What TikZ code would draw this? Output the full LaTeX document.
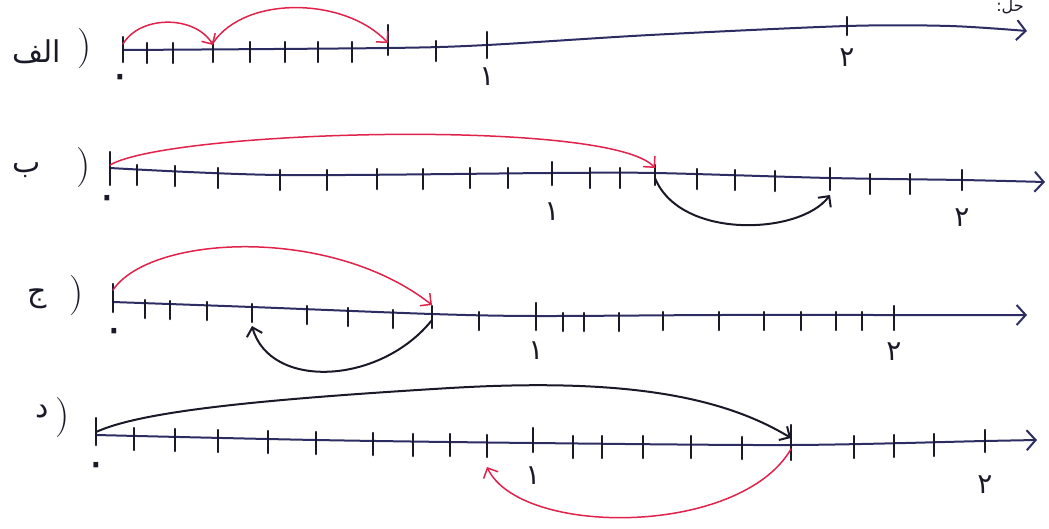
\documentclass[tikz,border=0pt]{standalone}
\usepackage{fontspec}
\usetikzlibrary{arrows.meta}
\TeXXeTstate=1
\newfontfamily\arabicfont[Script=Arabic]{DejaVu Sans}
\definecolor{inkblue}{RGB}{45,45,100}
\definecolor{inkred}{RGB}{225,35,75}
\definecolor{inkblack}{RGB}{25,25,40}
\begin{document}
\begin{tikzpicture}[x=1pt,y=-1pt,
  nline/.style={draw=inkblue, line width=2pt, line cap=round,
    -{Straight Barb[length=9pt,width=20pt]}},
  tickmark/.style={draw=inkblack, line width=2.5pt, line cap=round},
  redarc/.style={draw=inkred, line width=1.5pt, line cap=round,
    -{Straight Barb[length=8pt,width=16pt]}},
  blackarc/.style={draw=inkblack, line width=2pt, line cap=round,
    -{Straight Barb[length=8pt,width=16pt]}},
  numlbl/.style={font=\arabicfont\fontsize{28}{28}\selectfont, text=inkblack, inner sep=0pt},
  zerolbl/.style={font=\arabicfont\fontsize{44}{44}\selectfont, text=inkblack, inner sep=0pt},
  rowlbl/.style={font=\arabicfont\fontsize{30}{30}\selectfont, text=inkblack, inner sep=0pt},
  paren/.style={font=\fontsize{40}{40}\selectfont, text=inkblack, inner sep=0pt}]
\useasboundingbox (0,0) rectangle (1049,528);
\fill[white] (0,0) rectangle (1049,528);

% heading at top right
\node[rowlbl, font=\arabicfont\fontsize{16}{16}\selectfont] (head) at (1010,7) {\beginR حل:\endR};

% ---------------- Row A ----------------
\foreach \n/\x/\y in {0/123/50,1/147/50,2/173/50,3/213/49,4/250/49,5/285/49,6/318/49,7/352/49,8/388/48,9/436/48,10/487/45,20/847/26}
  \coordinate (A\n) at (\x,\y);
\coordinate (Am1) at (650,35);
\coordinate (Am2) at (950,26);
\coordinate (Aend) at (1027,31);
\draw[nline] plot[smooth, tension=0.5] coordinates {(A0) (A8) (A10) (Am1) (A20) (Am2) (Aend)};
\foreach \n in {1,2,3,4,5,6,7,9}
  \draw[tickmark] ([yshift=7pt]A\n) -- ([yshift=-13pt]A\n);
\draw[tickmark] ([yshift=13pt]A0) -- ([yshift=-12pt]A0);
\draw[tickmark] ([yshift=23pt]A8) -- ([yshift=-7pt]A8);
\draw[tickmark] ([yshift=13pt]A10) -- ([yshift=-13pt]A10);
\draw[tickmark] ([yshift=9pt]A20) -- ([yshift=-9pt]A20);
\node[zerolbl] (A0l) at (120,82) {\beginR ۰\endR};
\node[numlbl] (A10l) at (487,77) {\beginR ۱\endR};
\node[numlbl] (A20l) at (847,58) {\beginR ۲\endR};
\node[rowlbl] (Alab) at (37,52) {\beginR الف\endR};
\node[paren] (Apar) at (85,49) {)};
\draw[redarc] ([yshift=6pt]A0) .. controls (140,15) and (195,15) .. ([yshift=4pt]A3);
\draw[redarc] ([yshift=6pt]A3) .. controls (245,-5) and (345,-3) .. ([yshift=5pt]A8);

% ---------------- Row B ----------------
\foreach \n/\x/\y in {0/110/168,1/137/170,2/175/171,3/218/173,4/280/175,5/327/175,6/377/174,7/423/174,8/470/173,9/508/173,10/552/173,11/590/173,12/620/173,13/655/173,14/697/174,15/735/175,16/775/176,17/830/178,18/870/179,19/910/179,20/962/180}
  \coordinate (B\n) at (\x,\y);
\coordinate (Bend) at (1045,182);
\draw[nline] plot[smooth, tension=0.5] coordinates {(B0) (B4) (B10) (B13) (B17) (B20) (Bend)};
\foreach \n in {1,2,3,4,5,6,7,8,9,11,12,14,15,16,18,19}
  \draw[tickmark] ([yshift=5pt]B\n) -- ([yshift=-15pt]B\n);
\draw[tickmark] ([yshift=16pt]B0) -- ([yshift=-17pt]B0);
\draw[tickmark] ([yshift=11pt]B10) -- ([yshift=-12pt]B10);
\draw[tickmark] ([yshift=8pt]B13) -- ([yshift=-12pt]B13);
\draw[tickmark] ([yshift=10pt]B17) -- ([yshift=-12pt]B17);
\draw[tickmark] ([yshift=10pt]B20) -- ([yshift=-10pt]B20);
\node[zerolbl] (B0l) at (107,203) {\beginR ۰\endR};
\node[numlbl] (B10l) at (552,212) {\beginR ۱\endR};
\node[numlbl] (B20l) at (962,218) {\beginR ۲\endR};
\node[rowlbl] (Blab) at (27,170) {\beginR ب\endR};
\node[paren] (Bpar) at (84,168) {)};
\draw[redarc] ([yshift=3pt]B0) .. controls (170,130) and (610,118) .. ([yshift=5pt]B13);
\draw[blackarc] ([yshift=-5pt]B13) .. controls (680,240) and (800,235) .. ([yshift=-17pt]B17);

% ---------------- Row C ----------------
\foreach \n/\x/\y in {0/113/302,1/145/303,2/170/304,3/207/305,4/252/307,5/307/309,6/348/311,7/393/313,8/432/314,9/479/315,10/536/316,11/563/316,12/584/316,13/619/316,14/663/315,15/719/315,16/764/315,17/801/315,18/836/315,19/862/315,20/894/315}
  \coordinate (C\n) at (\x,\y);
\coordinate (Cend) at (1027,315);
\draw[nline] plot[smooth, tension=0.5] coordinates {(C0) (C4) (C8) (C10) (C15) (C20) (Cend)};
\foreach \n in {1,2,3,4,5,6,7,9,11,12,13,14,15,16,17,18,19}
  \draw[tickmark] ([yshift=3pt]C\n) -- ([yshift=-15pt]C\n);
\draw[tickmark] ([yshift=18pt]C0) -- ([yshift=-10pt]C0);
\draw[tickmark] ([yshift=8pt]C8) -- ([yshift=-14pt]C8);
\draw[tickmark] ([yshift=13pt]C10) -- ([yshift=-14pt]C10);
\draw[tickmark] ([yshift=9pt]C20) -- ([yshift=-15pt]C20);
\node[zerolbl] (C0l) at (114,336) {\beginR ۰\endR};
\node[numlbl] (C10l) at (536,351) {\beginR ۱\endR};
\node[numlbl] (C20l) at (894,352) {\beginR ۲\endR};
\node[rowlbl] (Clab) at (37,299) {\beginR ج\endR};
\node[paren] (Cpar) at (77,296) {)};
\draw[redarc] ([yshift=12pt]C0) .. controls (150,235) and (330,225) .. ([yshift=9pt]C8);
\draw[blackarc] ([yshift=-6pt]C8) .. controls (380,385) and (270,390) .. ([yshift=-19pt]C4);

% ---------------- Row D ----------------
\foreach \n/\x/\y in {0/96/435,1/134/436,2/175/437,3/218/438,4/268/439,5/316/440,6/373/441,7/413/442,8/450/442,9/487/443,10/533/443,11/573/444,12/602/444,13/643/444,14/691/444,15/742/445,16/791/445,17/854/444,18/894/443,19/934/442,20/985/441}
  \coordinate (D\n) at (\x,\y);
\coordinate (Dend) at (1037,440);
\coordinate (Dtop) at (450,388);
\draw[nline] plot[smooth, tension=0.5] coordinates {(D0) (D5) (D10) (D16) (D20) (Dend)};
\foreach \n in {1,2,3,4,5,6,7,8,9,11,12,13,14,15,17,18,19}
  \draw[tickmark] ([yshift=8pt]D\n) -- ([yshift=-14pt]D\n);
\draw[tickmark] ([yshift=17pt]D0) -- ([yshift=-10pt]D0);
\draw[tickmark] ([yshift=15pt]D10) -- ([yshift=-9pt]D10);
\draw[tickmark] ([yshift=20pt]D16) -- ([yshift=-15pt]D16);
\draw[tickmark] ([yshift=11pt]D20) -- ([yshift=-11pt]D20);
\node[zerolbl] (D0l) at (96,470) {\beginR ۰\endR};
\node[numlbl] (D10l) at (533,476) {\beginR ۱\endR};
\node[numlbl] (D20l) at (985,485) {\beginR ۲\endR};
\node[rowlbl] (Dlab) at (42,412) {\beginR د\endR};
\node[paren] (Dpar) at (63,418) {)};
\draw[blackarc] ([yshift=3pt]D0) .. controls (140,412) and (250,400) .. (Dtop)
   .. controls (620,378) and (720,395) .. ([yshift=7pt]D16);
\draw[redarc] ([yshift=-4pt]D16) .. controls (740,537) and (520,537) .. ([yshift=-24pt]D9);
\end{tikzpicture}
\end{document}
